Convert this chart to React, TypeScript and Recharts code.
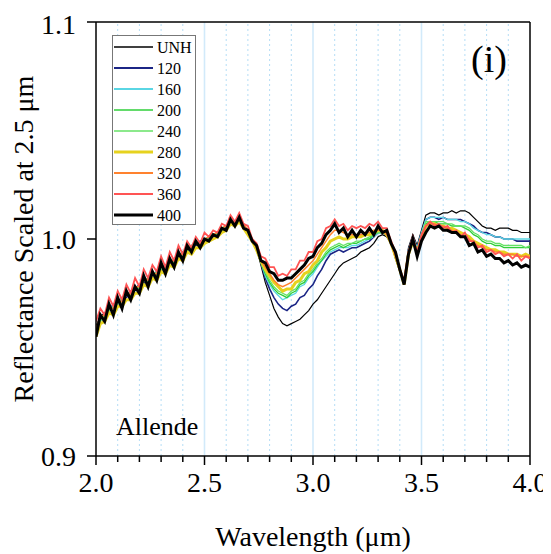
import React from 'react';
import { LineChart, Line, XAxis, YAxis, ReferenceLine, Legend, Label } from 'recharts';

const wavelength = [
  2.0, 2.02, 2.04, 2.06, 2.08, 2.1, 2.12, 2.14, 2.16, 2.18,
  2.2, 2.22, 2.24, 2.26, 2.28, 2.3, 2.32, 2.34, 2.36, 2.38,
  2.4, 2.42, 2.44, 2.46, 2.48, 2.5, 2.52, 2.54, 2.56, 2.58,
  2.6, 2.62, 2.64, 2.66, 2.68, 2.7, 2.72, 2.74, 2.76, 2.78,
  2.8, 2.82, 2.84, 2.86, 2.88, 2.9, 2.92, 2.94, 2.96, 2.98,
  3.0, 3.02, 3.04, 3.06, 3.08, 3.1, 3.12, 3.14, 3.16, 3.18,
  3.2, 3.22, 3.24, 3.26, 3.28, 3.3, 3.32, 3.34, 3.36, 3.38,
  3.4, 3.42, 3.44, 3.46, 3.48, 3.5, 3.52, 3.54, 3.56, 3.58,
  3.6, 3.62, 3.64, 3.66, 3.68, 3.7, 3.72, 3.74, 3.76, 3.78,
  3.8, 3.82, 3.84, 3.86, 3.88, 3.9, 3.92, 3.94, 3.96, 3.98,
  4.0,
];

const unh = [
  0.960, 0.964, 0.966, 0.968, 0.969, 0.971, 0.972, 0.974, 0.975, 0.978,
  0.978, 0.980, 0.981, 0.983, 0.984, 0.986, 0.987, 0.989, 0.990, 0.992,
  0.993, 0.995, 0.996, 0.997, 0.998, 0.999, 1.000, 1.002, 1.003, 1.004,
  1.006, 1.007, 1.008, 1.008, 1.006, 1.003, 1.000, 0.996, 0.988, 0.980,
  0.974, 0.968, 0.964, 0.961, 0.960, 0.961, 0.962, 0.963, 0.965, 0.967,
  0.970, 0.972, 0.975, 0.978, 0.981, 0.984, 0.987, 0.989, 0.990, 0.991,
  0.992, 0.994, 0.995, 0.996, 0.998, 1.001, 1.002, 1.001, 0.998, 0.991,
  0.985, 0.979, 0.996, 1.002, 0.997, 1.004, 1.011, 1.012, 1.012, 1.011,
  1.012, 1.012, 1.013, 1.012, 1.013, 1.013, 1.012, 1.010, 1.008, 1.006,
  1.005, 1.005, 1.004, 1.005, 1.005, 1.005, 1.004, 1.004, 1.003, 1.003,
  1.003,
];

const s120 = [
  0.958, 0.963, 0.965, 0.967, 0.970, 0.970, 0.973, 0.973, 0.976, 0.977,
  0.979, 0.979, 0.982, 0.983, 0.985, 0.985, 0.988, 0.988, 0.991, 0.991,
  0.994, 0.994, 0.997, 0.997, 0.999, 0.999, 1.001, 1.001, 1.003, 1.004,
  1.006, 1.007, 1.008, 1.008, 1.006, 1.003, 0.999, 0.995, 0.989, 0.982,
  0.977, 0.973, 0.970, 0.968, 0.967, 0.969, 0.970, 0.973, 0.974, 0.977,
  0.979, 0.983, 0.986, 0.990, 0.993, 0.994, 0.995, 0.994, 0.995, 0.996,
  0.996, 0.997, 0.998, 0.999, 1.001, 1.003, 1.003, 1.002, 0.998, 0.992,
  0.986, 0.980, 0.995, 1.001, 0.996, 1.003, 1.009, 1.010, 1.010, 1.009,
  1.010, 1.009, 1.009, 1.009, 1.009, 1.008, 1.007, 1.006, 1.004, 1.003,
  1.003, 1.002, 1.001, 1.001, 1.000, 1.000, 1.000, 0.999, 0.999, 0.999,
  0.999,
];

const s160 = [
  0.959, 0.962, 0.966, 0.966, 0.970, 0.971, 0.972, 0.974, 0.976, 0.976,
  0.979, 0.981, 0.981, 0.984, 0.984, 0.987, 0.987, 0.990, 0.990, 0.993,
  0.993, 0.995, 0.996, 0.998, 0.998, 1.000, 1.000, 1.002, 1.003, 1.005,
  1.006, 1.008, 1.008, 1.009, 1.006, 1.003, 0.999, 0.995, 0.989, 0.983,
  0.979, 0.976, 0.974, 0.972, 0.973, 0.974, 0.975, 0.978, 0.979, 0.982,
  0.984, 0.987, 0.990, 0.992, 0.994, 0.995, 0.996, 0.996, 0.996, 0.997,
  0.997, 0.998, 0.999, 1.000, 1.001, 1.003, 1.003, 1.002, 0.998, 0.992,
  0.986, 0.980, 0.995, 1.001, 0.996, 1.003, 1.009, 1.010, 1.010, 1.010,
  1.010, 1.009, 1.009, 1.009, 1.008, 1.008, 1.007, 1.005, 1.004, 1.003,
  1.002, 1.002, 1.001, 1.001, 1.000, 1.000, 1.000, 1.000, 1.000, 1.000,
  1.000,
];

const s200 = [
  0.956, 0.963, 0.964, 0.968, 0.968, 0.971, 0.971, 0.975, 0.974, 0.978,
  0.977, 0.981, 0.980, 0.984, 0.983, 0.987, 0.986, 0.990, 0.989, 0.993,
  0.992, 0.995, 0.995, 0.998, 0.997, 1.000, 1.000, 1.002, 1.002, 1.004,
  1.005, 1.008, 1.007, 1.009, 1.006, 1.003, 0.999, 0.995, 0.989, 0.984,
  0.980, 0.977, 0.975, 0.974, 0.973, 0.975, 0.976, 0.979, 0.980, 0.983,
  0.985, 0.988, 0.990, 0.993, 0.995, 0.996, 0.997, 0.996, 0.997, 0.998,
  0.998, 0.999, 1.000, 1.000, 1.002, 1.003, 1.003, 1.002, 0.998, 0.992,
  0.986, 0.979, 0.994, 1.000, 0.995, 1.002, 1.007, 1.008, 1.008, 1.007,
  1.007, 1.007, 1.006, 1.006, 1.006, 1.005, 1.004, 1.002, 1.001, 0.999,
  0.998, 0.998, 0.997, 0.997, 0.996, 0.996, 0.996, 0.996, 0.996, 0.996,
  0.996,
];

const s240 = [
  0.958, 0.962, 0.965, 0.967, 0.969, 0.970, 0.973, 0.974, 0.975, 0.977,
  0.978, 0.981, 0.982, 0.983, 0.985, 0.986, 0.988, 0.989, 0.991, 0.992,
  0.994, 0.995, 0.997, 0.998, 0.998, 1.000, 1.001, 1.002, 1.003, 1.005,
  1.006, 1.007, 1.008, 1.009, 1.006, 1.003, 0.999, 0.995, 0.990, 0.985,
  0.981, 0.978, 0.976, 0.975, 0.974, 0.976, 0.977, 0.980, 0.981, 0.984,
  0.986, 0.989, 0.991, 0.994, 0.996, 0.997, 0.998, 0.997, 0.998, 0.998,
  0.999, 0.999, 1.000, 1.001, 1.002, 1.003, 1.003, 1.002, 0.998, 0.992,
  0.986, 0.979, 0.994, 1.000, 0.995, 1.002, 1.008, 1.008, 1.008, 1.008,
  1.008, 1.007, 1.007, 1.006, 1.006, 1.006, 1.005, 1.003, 1.002, 1.000,
  0.999, 0.999, 0.998, 0.998, 0.997, 0.997, 0.997, 0.997, 0.997, 0.996,
  0.997,
];

const s280 = [
  0.955, 0.961, 0.962, 0.966, 0.965, 0.969, 0.969, 0.972, 0.972, 0.975,
  0.975, 0.979, 0.978, 0.982, 0.981, 0.985, 0.984, 0.988, 0.987, 0.991,
  0.990, 0.994, 0.993, 0.996, 0.996, 0.998, 0.999, 1.000, 1.001, 1.003,
  1.004, 1.007, 1.006, 1.008, 1.005, 1.002, 0.999, 0.995, 0.990, 0.986,
  0.983, 0.980, 0.978, 0.976, 0.977, 0.977, 0.980, 0.981, 0.984, 0.985,
  0.988, 0.990, 0.994, 0.996, 0.999, 1.000, 1.001, 1.000, 1.000, 1.001,
  1.001, 1.001, 1.002, 1.002, 1.003, 1.004, 1.004, 1.002, 0.998, 0.992,
  0.986, 0.979, 0.993, 0.999, 0.994, 1.000, 1.006, 1.007, 1.007, 1.006,
  1.006, 1.005, 1.005, 1.004, 1.003, 1.002, 1.001, 0.999, 0.998, 0.997,
  0.996, 0.995, 0.995, 0.994, 0.994, 0.993, 0.993, 0.993, 0.992, 0.993,
  0.992,
];

const s320 = [
  0.959, 0.964, 0.965, 0.968, 0.968, 0.972, 0.971, 0.975, 0.975, 0.978,
  0.978, 0.982, 0.981, 0.984, 0.984, 0.988, 0.987, 0.990, 0.990, 0.993,
  0.993, 0.996, 0.996, 0.998, 0.998, 1.000, 1.001, 1.002, 1.003, 1.005,
  1.006, 1.008, 1.008, 1.009, 1.007, 1.004, 1.000, 0.996, 0.990, 0.987,
  0.984, 0.981, 0.979, 0.978, 0.979, 0.980, 0.982, 0.984, 0.986, 0.988,
  0.990, 0.993, 0.996, 0.999, 1.002, 1.004, 1.004, 1.003, 1.002, 1.002,
  1.002, 1.002, 1.003, 1.003, 1.004, 1.004, 1.004, 1.002, 0.998, 0.992,
  0.986, 0.979, 0.994, 1.000, 0.994, 1.001, 1.006, 1.007, 1.007, 1.006,
  1.006, 1.005, 1.004, 1.003, 1.002, 1.001, 1.000, 0.998, 0.997, 0.996,
  0.995, 0.995, 0.994, 0.994, 0.993, 0.993, 0.993, 0.992, 0.992, 0.992,
  0.992,
];

const s360 = [
  0.962, 0.968, 0.965, 0.973, 0.969, 0.976, 0.972, 0.979, 0.975, 0.982,
  0.978, 0.986, 0.982, 0.988, 0.985, 0.992, 0.987, 0.994, 0.990, 0.997,
  0.993, 0.999, 0.996, 1.001, 0.998, 1.003, 1.001, 1.004, 1.003, 1.007,
  1.006, 1.011, 1.008, 1.012, 1.007, 1.006, 1.000, 0.998, 0.992, 0.991,
  0.987, 0.987, 0.983, 0.984, 0.983, 0.986, 0.986, 0.990, 0.990, 0.994,
  0.994, 0.999, 1.000, 1.005, 1.006, 1.009, 1.006, 1.007, 1.004, 1.006,
  1.005, 1.006, 1.005, 1.007, 1.006, 1.008, 1.005, 1.005, 0.999, 0.994,
  0.986, 0.981, 0.994, 1.001, 0.994, 1.002, 1.006, 1.008, 1.006, 1.007,
  1.005, 1.006, 1.003, 1.004, 1.001, 1.003, 0.999, 0.999, 0.996, 0.997,
  0.994, 0.995, 0.993, 0.994, 0.992, 0.993, 0.991, 0.993, 0.990, 0.992,
  0.991,
];

const s400 = [
  0.955, 0.965, 0.962, 0.970, 0.965, 0.973, 0.968, 0.976, 0.972, 0.978,
  0.975, 0.983, 0.978, 0.985, 0.981, 0.989, 0.984, 0.991, 0.987, 0.994,
  0.990, 0.997, 0.994, 0.999, 0.996, 1.000, 0.999, 1.002, 1.001, 1.005,
  1.004, 1.009, 1.006, 1.010, 1.005, 1.004, 0.999, 0.997, 0.990, 0.989,
  0.985, 0.984, 0.981, 0.981, 0.982, 0.982, 0.984, 0.986, 0.988, 0.991,
  0.992, 0.996, 0.998, 1.002, 1.004, 1.007, 1.003, 1.005, 1.001, 1.004,
  1.001, 1.004, 1.002, 1.005, 1.002, 1.006, 1.003, 1.004, 0.998, 0.994,
  0.986, 0.979, 0.993, 1.000, 0.992, 0.999, 1.003, 1.006, 1.005, 1.006,
  1.004, 1.004, 1.003, 1.003, 1.001, 1.001, 0.997, 0.998, 0.994, 0.995,
  0.992, 0.993, 0.991, 0.991, 0.989, 0.990, 0.988, 0.989, 0.987, 0.988,
  0.987,
];

const seriesNames = ['UNH', '120', '160', '200', '240', '280', '320', '360', '400'];
const seriesValues = [unh, s120, s160, s200, s240, s280, s320, s360, s400];
const seriesColors = ['#000000', '#1b2585', '#5ad6e4', '#2fcf3a', '#66e266', '#e6d21e', '#ff822e', '#ff5454', '#000000'];
const seriesWidths = [1.2, 1.6, 1.3, 1.3, 1.3, 3, 1.5, 1.8, 3];
const legendWidths = [1.5, 2, 2, 1.5, 1.5, 3, 2, 2, 3];

const xTicks = [2.0, 2.1, 2.2, 2.3, 2.4, 2.5, 2.6, 2.7, 2.8, 2.9, 3.0, 3.1, 3.2, 3.3, 3.4, 3.5, 3.6, 3.7, 3.8, 3.9, 4.0];
const xMajor = [2.0, 2.5, 3.0, 3.5, 4.0];
const yTicks = [0.9, 1.0, 1.1];
const gridDotted = [2.1, 2.2, 2.3, 2.4, 2.6, 2.7, 2.8, 2.9, 3.1, 3.2, 3.3, 3.4, 3.6, 3.7, 3.8, 3.9];
const gridSolid = [2.5, 3.0, 3.5];

const data = wavelength.map((w, i) => {
  const row: Record<string, number> = { w };
  seriesNames.forEach((n, k) => {
    row[n] = seriesValues[k][i];
  });
  return row;
});

const FONT = '"Liberation Serif", "Times New Roman", serif';

const XTick = (props: any) => {
  const { x, y, payload } = props;
  const major = xMajor.includes(payload.value);
  return (
    <g>
      <line x1={x} x2={x} y1={y} y2={y + (major ? 9 : 6)} stroke="#000" strokeWidth={1.5} />
      {major && (
        <text x={x} y={y + 36} textAnchor="middle" fontSize={28} fontFamily={FONT} fill="#000">
          {payload.value.toFixed(1)}
        </text>
      )}
    </g>
  );
};

const LegendBox = () => (
  <div style={{ width: 84, height: 190, border: '1px solid #777', background: '#fff', boxSizing: 'border-box' }}>
    <svg width={82} height={188} style={{ display: 'block' }}>
      {seriesNames.map((n, i) => (
        <g key={n}>
          <line x1={1} x2={40} y1={11 + i * 21} y2={11 + i * 21} stroke={seriesColors[i]} strokeWidth={legendWidths[i]} />
          <text x={44} y={16.5 + i * 21} fontSize={16} fontFamily={FONT} fill="#000">
            {n}
          </text>
        </g>
      ))}
    </svg>
  </div>
);

const App: React.FC = () => {
  return (
    <div style={{ position: 'relative', width: 543, height: 546, fontFamily: FONT }}>
      <LineChart
        width={543}
        height={546}
        data={data}
        margin={{ top: 14, right: 21, left: 0, bottom: 0 }}
        style={{ fontFamily: FONT }}
      >
        {gridDotted.map((v) => (
          <ReferenceLine key={'d' + v} x={v} stroke="#b4ddf6" strokeWidth={1} strokeDasharray="2 3" />
        ))}
        {gridSolid.map((v) => (
          <ReferenceLine key={'s' + v} x={v} stroke="#d2eafa" strokeWidth={1.6} />
        ))}
        <XAxis
          dataKey="w"
          type="number"
          domain={[2, 4]}
          ticks={xTicks}
          interval={0}
          height={98}
          tickLine={false}
          tickSize={0}
          tickMargin={0}
          tick={<XTick />}
          axisLine={{ stroke: '#000', strokeWidth: 1.5 }}
          allowDataOverflow
        >
          <Label
            content={(p: any) => {
              const vb = p.viewBox;
              return (
                <text x={vb.x + vb.width / 2} y={vb.y + 90} textAnchor="middle" fontSize={28} fontFamily={FONT} fill="#000">
                  Wavelength (μm)
                </text>
              );
            }}
          />
        </XAxis>
        <YAxis
          type="number"
          domain={[0.9, 1.1]}
          ticks={yTicks}
          width={88}
          tickSize={9}
          tickMargin={11}
          tickFormatter={(v: number) => v.toFixed(1)}
          tick={{ fontSize: 28, fill: '#000', fontFamily: FONT }}
          tickLine={{ stroke: '#000', strokeWidth: 1.5 }}
          axisLine={{ stroke: '#000', strokeWidth: 1.5 }}
          allowDataOverflow
        >
          <Label
            content={(p: any) => {
              const vb = p.viewBox;
              const cx = vb.x + 25;
              const cy = vb.y + vb.height / 2;
              return (
                <text
                  x={cx}
                  y={cy}
                  transform={`rotate(-90 ${cx} ${cy})`}
                  textAnchor="middle"
                  fontSize={28}
                  fontFamily={FONT}
                  fill="#000"
                >
                  Reflectance Scaled at 2.5 μm
                </text>
              );
            }}
          />
        </YAxis>
        <ReferenceLine y={1.1} stroke="#000" strokeWidth={1.5} />
        <ReferenceLine x={4} stroke="#000" strokeWidth={1.5} />
        {seriesNames.map((n, i) => (
          <Line
            key={n}
            type="linear"
            dataKey={n}
            name={n}
            stroke={seriesColors[i]}
            strokeWidth={seriesWidths[i]}
            dot={false}
            isAnimationActive={false}
          />
        ))}
        <Legend
          layout="vertical"
          align="center"
          verticalAlign="middle"
          wrapperStyle={{ top: 27, left: 104, width: 84, height: 190 }}
          content={() => <LegendBox />}
        />
      </LineChart>
      <svg width={543} height={546} style={{ position: 'absolute', left: 0, top: 0, pointerEvents: 'none' }}>
        <text x={463} y={64} fontSize={38} fontFamily={FONT} fill="#000">
          (i)
        </text>
        <text x={108} y={427} fontSize={26} fontFamily={FONT} fill="#000">
          Allende
        </text>
      </svg>
    </div>
  );
};

export default App;
